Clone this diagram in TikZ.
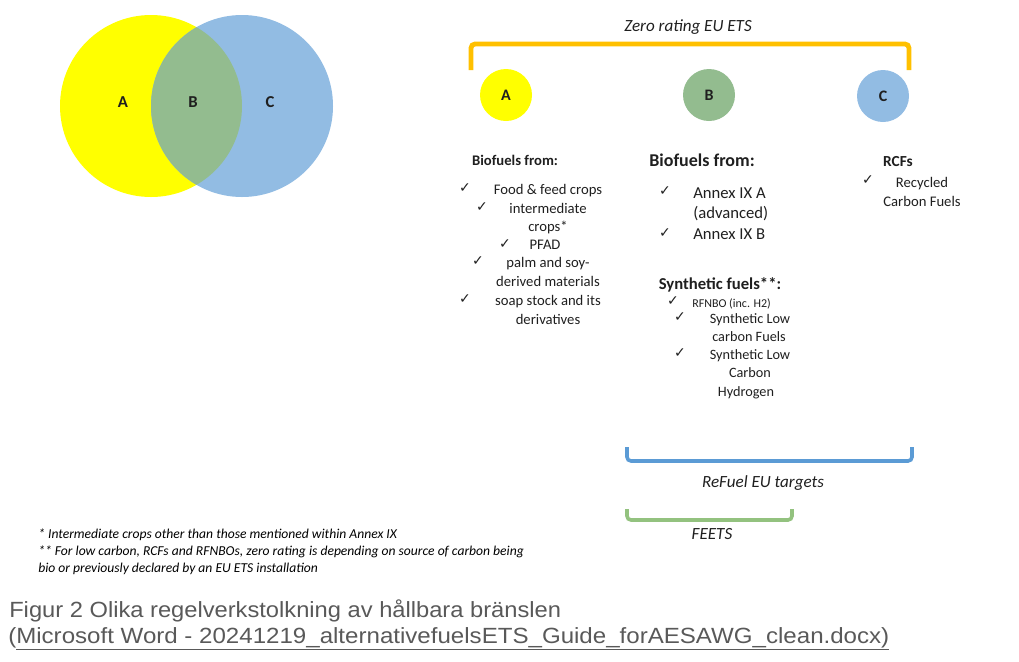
\documentclass[tikz,border=0pt]{standalone}
\usepackage{fontspec}
\setmainfont{Carlito}
\newfontfamily\capfont{Liberation Sans}
\newfontfamily\symfont{DejaVu Sans}
\definecolor{vyellow}{HTML}{FFFF00}
\definecolor{vblue}{HTML}{92BCE3}
\definecolor{vgreen}{HTML}{93BC8F}
\definecolor{brorange}{HTML}{FFC000}
\definecolor{brblue}{HTML}{5B9BD5}
\definecolor{brgreen}{HTML}{93C27F}
\definecolor{txt}{HTML}{1F1F1F}
\definecolor{captxt}{HTML}{595959}
\tikzset{
  bigcirc/.style={circle, minimum size=136.5pt, inner sep=0pt},
  smallcirc/.style={circle, minimum size=39pt, inner sep=0pt, font=\bfseries\fontsize{12}{14}\selectfont, text=txt},
  vlabel/.style={font=\bfseries\fontsize{12.5}{15}\selectfont, text=txt, inner sep=0pt},
  hdr/.style={font=\bfseries\fontsize{#1}{#1}\selectfont, text=txt, inner sep=0pt, anchor=mid},
  itm/.style={font=\fontsize{#1}{#1}\selectfont, text=txt, inner sep=0pt, anchor=mid},
  itml/.style={font=\fontsize{#1}{#1}\selectfont, text=txt, inner sep=0pt, anchor=mid west},
  chk/.style={font=\symfont\fontsize{10.5}{10.5}\selectfont, text=txt, inner sep=0pt, anchor=mid},
  brtitle/.style={font=\itshape\fontsize{12.8}{14}\selectfont, text=txt, inner sep=0pt, anchor=mid},
  fnote/.style={font=\itshape\fontsize{10.2}{12}\selectfont, text=black, inner sep=0pt, anchor=mid west},
  capt/.style={font=\capfont\fontsize{16.5}{20}\selectfont, text=captxt, inner sep=0pt, anchor=base west},
  bracket/.style={line width=#1, rounded corners=3pt},
}
\begin{document}
\begin{tikzpicture}[x=0.75pt,y=-0.75pt]
\useasboundingbox (0,0) rectangle (1019,661);
% Venn diagram
\node[bigcirc, fill=vyellow] (vA) at (151,106) {};
\node[bigcirc, fill=vblue] (vC) at (242,106) {};
\begin{scope}
  \clip (vA.center) circle (68.25pt);
  \fill[vgreen] (vC.center) circle (68.25pt);
\end{scope}
\node[vlabel] (lA) at (123,102) {A};
\node[vlabel] (lB) at (193,102) {B};
\node[vlabel] (lC) at (270,102) {C};

% Zero rating bracket
\node[brtitle] (zt) at (688,28) {Zero rating EU ETS};
\coordinate (zl) at (471,70);
\coordinate (zr) at (909,70);
\draw[bracket=3.6pt, brorange] (zl) -- (471,44) -- (909,44) -- (zr);

% small circles
\node[smallcirc, fill=vyellow] (sA) at (506,95) {A};
\node[smallcirc, fill=vgreen] (sB) at (709,95) {B};
\node[smallcirc, fill=vblue] (sC) at (883,96) {C};

% Column A
\node[hdr=11] (ahdr) at (515,162) {Biofuels from:};
\node[chk] (ac1) at (465,189) {✓};
\node[itm=11] (a1) at (548,191) {Food \& feed crops};
\node[chk] (ac2) at (482,208) {✓};
\node[itm=11] (a2) at (548,210) {intermediate};
\node[itm=11] (a2b) at (548,228) {crops*};
\node[chk] (ac3) at (505,245) {✓};
\node[itm=11] (a3) at (545,246) {PFAD};
\node[chk] (ac4) at (478,262) {✓};
\node[itm=11] (a4) at (548,264) {palm and soy-};
\node[itm=11] (a4b) at (548,283) {derived materials};
\node[chk] (ac5) at (465,300) {✓};
\node[itm=11] (a5) at (548,302) {soap stock and its};
\node[itm=11] (a5b) at (548,321) {derivatives};

% Column B
\node[hdr=13.5] (bhdr) at (702,163) {Biofuels from:};
\node[chk] (bc1) at (665,192) {✓};
\node[itml=12.5] (b1) at (693,195) {Annex IX A};
\node[itml=12.5] (b1b) at (693,215) {(advanced)};
\node[chk] (bc2) at (665,234) {✓};
\node[itml=12.5] (b2) at (693,236) {Annex IX B};
\node[hdr=12.5] (shdr) at (720,286) {Synthetic fuels**:};
\node[chk] (sc1) at (673,302) {✓};
\node[itml=9] (s1) at (692,304) {RFNBO (inc. H2)};
\node[chk] (sc2) at (680,318) {✓};
\node[itm=10.7] (s2) at (750,320) {Synthetic Low};
\node[itm=10.7] (s2b) at (749,338) {carbon Fuels};
\node[chk] (sc3) at (680,354) {✓};
\node[itm=10.7] (s3) at (750,356) {Synthetic Low};
\node[itm=10.7] (s3b) at (750,374) {Carbon};
\node[itm=10.7] (s3c) at (746,393) {Hydrogen};

% Column C
\node[hdr=11.5] (chdr) at (898,163) {RCFs};
\node[chk] (cc1) at (868,181) {✓};
\node[itm=11] (c1) at (922,184) {Recycled};
\node[itm=11] (c1b) at (922,203) {Carbon Fuels};

% ReFuel bracket
\coordinate (rl) at (627,447);
\coordinate (rr) at (912,447);
\draw[bracket=2.7pt, brblue] (rl) -- (627,461) -- (912,461) -- (rr);
\node[brtitle] (rt) at (763,484) {ReFuel EU targets};

% FEETS bracket
\coordinate (fl) at (627,509);
\coordinate (fr) at (792,509);
\draw[bracket=2.7pt, brgreen] (fl) -- (627,520) -- (792,520) -- (fr);
\node[brtitle] (ft) at (712,536) {FEETS};

% footnotes
\node[fnote] (fn1) at (38,535) {* Intermediate crops other than those mentioned within Annex IX};
\node[fnote] (fn2) at (38,552) {** For low carbon, RCFs and RFNBOs, zero rating is depending on source of carbon being};
\node[fnote] (fn3) at (38,569) {bio or previously declared by an EU ETS installation};

% caption
\node[capt] (cap1) at (9,617) {\scalebox{1.077}[1]{Figur 2 Olika regelverkstolkning av hållbara bränslen}};
\node[capt] (cap2) at (8,643) {\scalebox{1.095}[1]{(\underline{Microsoft Word - 20241219\_alternativefuelsETS\_Guide\_forAESAWG\_clean.docx)}}};
\end{tikzpicture}
\end{document}
